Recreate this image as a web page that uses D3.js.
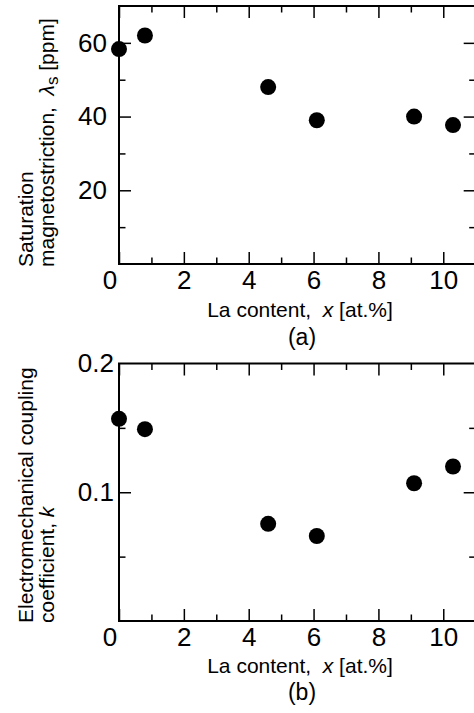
<!DOCTYPE html>
<html>
<head>
<meta charset="utf-8">
<script src="https://cdn.jsdelivr.net/npm/d3@7"></script>
<style>
  body { margin: 0; background: #fff; }
  svg { display: block; font-family: "Liberation Sans", Arial, sans-serif; }
  svg text { font-family: "Liberation Sans", Arial, sans-serif; fill: #000; }
</style>
</head>
<body>
<svg id="chart" width="474" height="713"></svg>
<script>
// data
const laContent = [0, 0.8, 4.6, 6.1, 9.1, 10.3];          // x [at.%]
const lambdaS   = [58.3, 62, 48, 39, 40, 37.7];            // ppm
const couplingK = [0.157, 0.149, 0.0755, 0.066, 0.107, 0.120];

const xMajor = [2, 4, 6, 8, 10];
const xMinor = [1, 3, 5, 7, 9, 11];
const aMajor = [20, 40, 60];
const aMinor = [10, 30, 50];
const bMajor = [0.1];
const bMinor = [0.05, 0.15];

const TICK_FONT = 26;
const svg = d3.select("#chart");

function drawPanel(cfg) {
    const { top, bottom, yDomain, yValues, yMajor, yMinor, yFormat, yPad, titleLines, label, xTitleY, labelY } = cfg;
    const left = 119, right = 475.7;

    const x = d3.scaleLinear().domain([0, 11]).range([left, right]);
    const y = d3.scaleLinear().domain(yDomain).range([bottom, top]);

    const g = svg.append("g");

    // ticks (all inward)
    const addAxis = (axis, transform, withLabels) => {
        const a = g.append("g").attr("transform", transform).call(axis)
            .attr("font-size", TICK_FONT).attr("font-family", null);
        a.select(".domain").remove();
        a.selectAll(".tick line").attr("stroke", "#000").attr("stroke-width", 1.5);
        if (!withLabels) a.selectAll("text").remove();
        return a;
    };

    addAxis(d3.axisBottom(x).tickValues(xMajor).tickSize(-12).tickPadding(7).tickFormat(d3.format("d")), `translate(0,${bottom})`, true);
    addAxis(d3.axisBottom(x).tickValues([0]).tickSize(-12), `translate(0,${bottom})`, false);
    addAxis(d3.axisBottom(x).tickValues(xMinor).tickSize(-6.5), `translate(0,${bottom})`, false);
    addAxis(d3.axisTop(x).tickValues([0].concat(xMajor)).tickSize(-12), `translate(0,${top})`, false);
    addAxis(d3.axisTop(x).tickValues(xMinor).tickSize(-6.5), `translate(0,${top})`, false);

    addAxis(d3.axisLeft(y).tickValues(yMajor).tickSize(-12).tickPadding(yPad).tickFormat(yFormat), `translate(${left},0)`, true);
    addAxis(d3.axisLeft(y).tickValues(yMinor).tickSize(-6.5), `translate(${left},0)`, false);
    addAxis(d3.axisRight(y).tickValues(yMajor).tickSize(-12), `translate(${right},0)`, false);
    addAxis(d3.axisRight(y).tickValues(yMinor).tickSize(-6.5), `translate(${right},0)`, false);

    // shared "0" at the lower-left corner
    g.append("text")
        .attr("x", left - 9).attr("y", bottom + 7).attr("dy", "0.71em")
        .attr("text-anchor", "middle").style("font-size", TICK_FONT + "px")
        .text("0");

    // top label of the y axis (e.g. "0.2") sits on the frame
    if (cfg.topLabel) {
        g.append("text")
            .attr("x", left - yPad).attr("y", top).attr("dy", "0.32em")
            .attr("text-anchor", "end").style("font-size", TICK_FONT + "px")
            .text(cfg.topLabel);
    }

    // frame
    g.append("rect")
        .attr("x", left).attr("y", top)
        .attr("width", right - left).attr("height", bottom - top)
        .attr("fill", "none").attr("stroke", "#000").attr("stroke-width", 2);

    // points
    g.append("g").selectAll("circle")
        .data(laContent.map((d, i) => [d, yValues[i]]))
        .join("circle")
        .attr("cx", d => x(d[0]))
        .attr("cy", d => y(d[1]))
        .attr("r", 8)
        .attr("fill", "#000");

    // x title
    const xt = g.append("text")
        .attr("x", 300).attr("y", xTitleY)
        .attr("text-anchor", "middle").style("font-size", "21px");
    xt.append("tspan").text("La content,\u00a0\u00a0");
    xt.append("tspan").attr("font-style", "italic").text("x");
    xt.append("tspan").text(" [at.%]");

    // panel label
    g.append("text")
        .attr("x", 302).attr("y", labelY)
        .attr("text-anchor", "middle").style("font-size", "23px")
        .text(label);

    // y title, two lines, anchored at the bottom
    const yt = g.append("g").attr("transform", `translate(0,${cfg.titleStart}) rotate(-90)`);
    titleLines.forEach((parts, i) => {
        const t = yt.append("text")
            .attr("x", 0).attr("y", 32.5 + i * 21)
            .style("font-size", "21px");
        parts.forEach(p => {
            const ts = t.append("tspan").text(p.text);
            if (p.italic) ts.attr("font-style", "italic");
            if (p.sub) ts.attr("dy", 4).style("font-size", "17px");
            if (p.after) ts.attr("dy", -4);
        });
    });
}

drawPanel({
    top: 6, bottom: 264,
    yDomain: [0, 70], yValues: lambdaS,
    yMajor: aMajor, yMinor: aMinor, yFormat: d3.format("d"), yPad: 12,
    titleStart: 267,
    titleLines: [
        [{ text: "Saturation" }],
        [{ text: "magnetostriction,\u00a0\u00a0" }, { text: "\u03bb", italic: true }, { text: "s", sub: true }, { text: " [ppm]", after: true }]
    ],
    xTitleY: 316.7, label: "(a)", labelY: 345
});

drawPanel({
    top: 363.5, bottom: 621,
    yDomain: [0, 0.2], yValues: couplingK,
    yMajor: bMajor, yMinor: bMinor, yFormat: d3.format(".1f"), yPad: 5,
    topLabel: "0.2",
    titleStart: 623,
    titleLines: [
        [{ text: "Electromechanical coupling" }],
        [{ text: "coefficient,\u00a0" }, { text: "k", italic: true }]
    ],
    xTitleY: 673.3, label: "(b)", labelY: 700
});
</script>
</body>
</html>
